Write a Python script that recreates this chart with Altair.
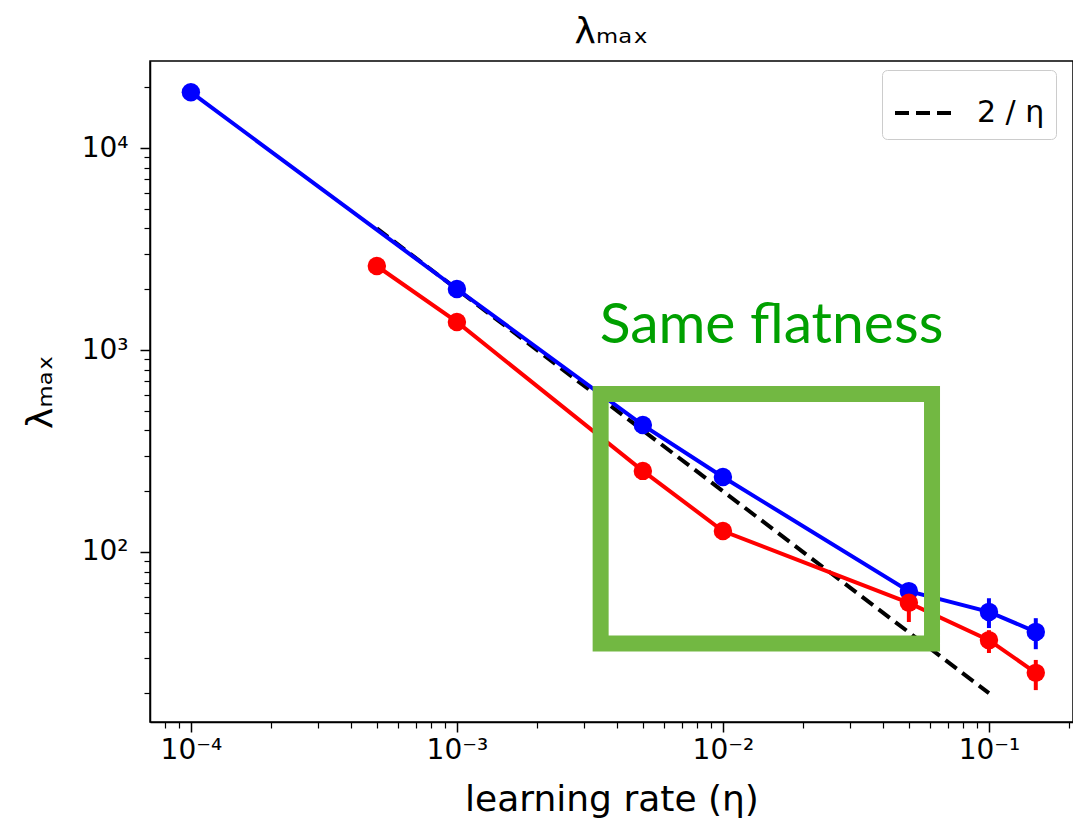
import altair as alt
import pandas as pd

# ---------------- data ----------------
blue_lr = [1e-4, 1e-3, 5e-3, 1e-2, 5e-2, 1e-1, 0.15]
blue_lam = [18900, 2005, 425, 235, 64, 50.5, 40.2]
blue_lo = [18900, 2005, 425, 235, 60, 42, 33]
blue_hi = [18900, 2005, 425, 235, 69, 59, 47]

red_lr = [5e-4, 1e-3, 5e-3, 1e-2, 5e-2, 1e-1, 0.15]
red_lam = [2606, 1377, 252, 127, 56, 36.6, 25.2]
red_lo = [2606, 1377, 252, 127, 45, 31.6, 20.7]
red_hi = [2606, 1377, 252, 127, 64, 41, 29.2]

ref_lr = [5e-4, 1e-1]
ref_lam = [4000, 20]
ref_name = ["2 / η", "2 / η"]

box_x = [3.47e-3]
box_x2 = [0.0611]
box_y = [605]
box_y2 = [35.2]

note_x = [3.44e-3]
note_y = [1084]
note_text = ["Same flatness"]

x_domain = [7.02e-5, 0.207]
y_domain = [14.39, 26977]

x_major = [1e-4, 1e-3, 1e-2, 1e-1]
x_major_labels = ["10⁻⁴", "10⁻³", "10⁻²", "10⁻¹"]
x_minor = [8e-5, 9e-5,
           2e-4, 3e-4, 4e-4, 5e-4, 6e-4, 7e-4, 8e-4, 9e-4,
           2e-3, 3e-3, 4e-3, 5e-3, 6e-3, 7e-3, 8e-3, 9e-3,
           2e-2, 3e-2, 4e-2, 5e-2, 6e-2, 7e-2, 8e-2, 9e-2,
           0.2]
y_major = [100, 1000, 10000]
y_major_labels = ["10²", "10³", "10⁴"]
y_minor = [20, 30, 40, 50, 60, 70, 80, 90,
           200, 300, 400, 500, 600, 700, 800, 900,
           2000, 3000, 4000, 5000, 6000, 7000, 8000, 9000,
           20000]

# ---------------- tables ----------------
series = pd.DataFrame({
    "lr": blue_lr + red_lr,
    "lam": blue_lam + red_lam,
    "lo": blue_lo + red_lo,
    "hi": blue_hi + red_hi,
    "s": ["blue"] * len(blue_lr) + ["red"] * len(red_lr),
})
ref = pd.DataFrame({"lr": ref_lr, "lam": ref_lam, "name": ref_name})
box = pd.DataFrame({"x": box_x, "x2": box_x2, "y": box_y, "y2": box_y2})
note = pd.DataFrame({"x": note_x, "y": note_y, "t": note_text})

FONT = "DejaVu Sans"
xs = alt.Scale(type="log", domain=x_domain, nice=False)
ys = alt.Scale(type="log", domain=y_domain, nice=False)

xlab = "[" + ",".join("'%s'" % s for s in x_major_labels) + "][round(log(datum.value)/LN10)+4]"
ylab = "[" + ",".join("'%s'" % s for s in y_major_labels) + "][round(log(datum.value)/LN10)-2]"

x_axis = alt.Axis(orient="bottom", values=x_major, labelExpr=xlab, title="learning rate (η)",
                  tickSize=10, tickWidth=1.5, tickColor="black",
                  domainWidth=1.5, domainColor="black", grid=False,
                  labelFont=FONT, labelFontSize=28, labelColor="black", labelPadding=4,
                  labelFlush=False, labelOverlap=False,
                  titleFont=FONT, titleFontSize=36, titleFontWeight="normal",
                  titleColor="black", titlePadding=18)
y_axis = alt.Axis(orient="left", values=y_major, labelExpr=ylab, title="λₘₐₓ",
                  tickSize=10, tickWidth=1.5, tickColor="black",
                  domainWidth=1.5, domainColor="black", grid=False,
                  labelFont=FONT, labelFontSize=28, labelColor="black", labelPadding=12,
                  labelFlush=False, labelOverlap=False,
                  titleFont=FONT, titleFontSize=36, titleFontWeight="normal",
                  titleColor="black", titlePadding=22)
x_minor_axis = alt.Axis(orient="bottom", values=x_minor, labels=False, title=None, domain=False,
                        tickSize=6, tickWidth=1.2, tickColor="black", grid=False)
y_minor_axis = alt.Axis(orient="left", values=y_minor, labels=False, title=None, domain=False,
                        tickSize=6, tickWidth=1.2, tickColor="black", grid=False)

color = alt.Color("s:N", scale=alt.Scale(domain=["blue", "red"], range=["#0000ff", "#ff0000"]),
                  legend=None)

dashed = alt.Chart(ref).mark_line(strokeWidth=4, color="black").encode(
    x=alt.X("lr:Q", scale=xs, axis=x_minor_axis),
    y=alt.Y("lam:Q", scale=ys, axis=y_minor_axis),
    strokeDash=alt.StrokeDash(
        "name:N",
        scale=alt.Scale(domain=["2 / η"], range=[[14, 7]]),
        legend=alt.Legend(title=None, orient="none", legendX=732, legendY=9,
                          symbolType="stroke", symbolSize=3600, symbolStrokeWidth=4,
                          symbolStrokeColor="black", labelFont=FONT, labelFontSize=30,
                          labelColor="black", labelOffset=20, padding=11,
                          strokeColor="#cccccc", fillColor="white", cornerRadius=5),
    ),
)

lines = alt.Chart(series).mark_line(strokeWidth=4).encode(
    x=alt.X("lr:Q", scale=xs, axis=x_axis),
    y=alt.Y("lam:Q", scale=ys, axis=y_axis),
    color=color,
)
errs = alt.Chart(series).mark_rule(strokeWidth=4).encode(
    x=alt.X("lr:Q", scale=xs, axis=None),
    y=alt.Y("lo:Q", scale=ys, axis=None),
    y2="hi:Q",
    color=color,
)
pts = alt.Chart(series).mark_circle(size=340, opacity=1).encode(
    x=alt.X("lr:Q", scale=xs, axis=None),
    y=alt.Y("lam:Q", scale=ys, axis=None),
    color=color,
)
rect = alt.Chart(box).mark_rect(fillOpacity=0, stroke="#72b842", strokeWidth=16).encode(
    x=alt.X("x:Q", scale=xs, axis=None), x2="x2:Q",
    y=alt.Y("y:Q", scale=ys, axis=None), y2="y2:Q",
)
text = alt.Chart(note).mark_text(align="left", baseline="alphabetic", font="Lato",
                                 fontSize=57, color="#00a000").encode(
    x=alt.X("x:Q", scale=xs, axis=None),
    y=alt.Y("y:Q", scale=ys, axis=None),
    text="t:N",
)

chart = alt.layer(dashed, lines, errs, pts, rect, text).resolve_axis(
    x="independent", y="independent"
).properties(
    width=923, height=661,
    padding={"left": 150, "top": 61, "right": 0, "bottom": 102},
    autosize=alt.AutoSizeParams(type="none"),
    title=alt.Title("λₘₐₓ", font=FONT, fontSize=36, fontWeight="normal",
                    color="black", offset=10, anchor="middle"),
    background="white",
).configure_view(stroke="black", strokeWidth=1.5)

chart.save("out.html", embed_options={"renderer": "svg", "actions": False})
